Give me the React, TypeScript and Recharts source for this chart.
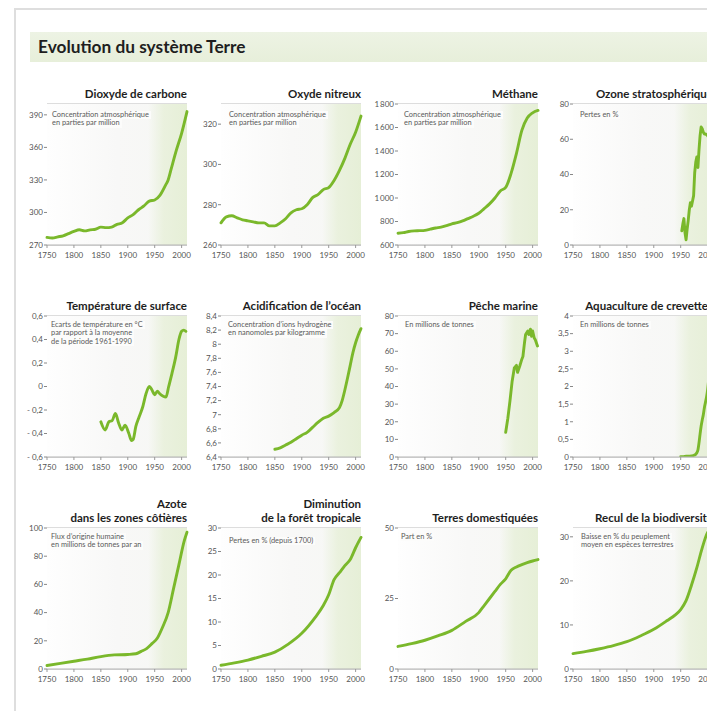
import { LineChart, Line, XAxis, YAxis, CartesianGrid, ReferenceArea } from 'recharts'

// ---- data ----
const xTicks = [1750, 1800, 1850, 1900, 1950, 2000]

const co2Years = [1750, 1760, 1770, 1780, 1790, 1800, 1810, 1820, 1830, 1840, 1850, 1860, 1870, 1880, 1890, 1900, 1910, 1920, 1930, 1940, 1950, 1960, 1970, 1975, 1980, 1990, 2000, 2010]
const co2Values = [277, 276.5, 277.5, 278.5, 280.5, 282.5, 284, 283, 284, 284.5, 286.5, 286, 286.5, 289, 290.5, 295, 298, 302.5, 306, 310.5, 311.5, 316, 325, 330, 339, 357, 373, 393]
const co2Ticks = [270, 300, 330, 360, 390]

const n2oYears = [1750, 1760, 1770, 1780, 1790, 1800, 1810, 1820, 1830, 1840, 1850, 1860, 1870, 1880, 1890, 1900, 1910, 1920, 1930, 1940, 1950, 1960, 1970, 1980, 1990, 2000, 2010]
const n2oValues = [271, 274, 274.5, 273.5, 272.5, 272, 271.5, 271, 271, 269.5, 269.5, 271, 273, 276, 277.5, 278, 280, 283.5, 285, 287.5, 288.5, 292, 297, 303, 310, 316, 324]
const n2oTicks = [260, 280, 300, 320]

const ch4Years = [1750, 1760, 1770, 1780, 1790, 1800, 1810, 1820, 1830, 1840, 1850, 1860, 1870, 1880, 1890, 1900, 1910, 1920, 1930, 1940, 1950, 1960, 1970, 1980, 1990, 2000, 2010]
const ch4Values = [700, 705, 715, 720, 722, 725, 735, 745, 752, 765, 780, 790, 805, 825, 845, 870, 910, 950, 1000, 1060, 1090, 1210, 1380, 1575, 1680, 1725, 1745]
const ch4Ticks = [600, 800, 1000, 1200, 1400, 1600, 1800]

const ozoneYears = [1952, 1954, 1956, 1958, 1960, 1962, 1964, 1966, 1968, 1970, 1972, 1974, 1976, 1978, 1980, 1982, 1984, 1986, 1988, 1990, 1992, 1994, 1996, 2000, 2004, 2008, 2010]
const ozoneValues = [8, 12, 15, 7, 3, 9, 14, 20, 24, 22, 25, 28, 41, 47, 50, 44, 54, 62, 67, 66, 64, 63, 63, 62, 60, 61, 60]
const ozoneTicks = [0, 20, 40, 60, 80]

const tempYears = [1850, 1858, 1865, 1871, 1877, 1883, 1889, 1895, 1902, 1907, 1910, 1915, 1921, 1928, 1934, 1940, 1945, 1950, 1955, 1959, 1965, 1971, 1976, 1982, 1989, 1995, 2000, 2004, 2008]
const tempValues = [-0.3, -0.37, -0.3, -0.29, -0.23, -0.31, -0.37, -0.33, -0.4, -0.46, -0.45, -0.34, -0.26, -0.17, -0.06, 0, -0.03, -0.07, -0.04, -0.06, -0.08, -0.09, 0, 0.11, 0.25, 0.4, 0.47, 0.48, 0.47]
const tempTicks = [-0.6, -0.4, -0.2, 0, 0.2, 0.4, 0.6]

const acidYears = [1850, 1860, 1870, 1880, 1890, 1900, 1910, 1920, 1930, 1940, 1950, 1960, 1970, 1975, 1980, 1985, 1990, 1995, 2000, 2005, 2010]
const acidValues = [6.51, 6.53, 6.57, 6.61, 6.66, 6.71, 6.75, 6.82, 6.89, 6.95, 6.98, 7.03, 7.1, 7.2, 7.35, 7.52, 7.7, 7.88, 8.02, 8.13, 8.22]
const acidTicks = [6.4, 6.6, 6.8, 7, 7.2, 7.4, 7.6, 7.8, 8, 8.2, 8.4]

const fishYears = [1950, 1954, 1958, 1962, 1966, 1970, 1972, 1976, 1980, 1982, 1985, 1987, 1991, 1993, 1996, 1998, 2000, 2003, 2005, 2009]
const fishValues = [14, 22, 32, 43, 50.5, 52, 48, 51.5, 55.5, 57, 65, 69.5, 71.5, 69.5, 72.5, 68.5, 71.5, 67.5, 66.5, 63]
const fishTicks = [0, 10, 20, 30, 40, 50, 60, 70, 80]

const shrimpYears = [1950, 1955, 1960, 1965, 1970, 1975, 1978, 1980, 1982, 1984, 1986, 1988, 1990, 1992, 1994, 1996, 1998, 2000, 2002, 2004, 2006, 2008, 2010]
const shrimpValues = [0.01, 0.01, 0.02, 0.02, 0.03, 0.05, 0.08, 0.12, 0.2, 0.4, 0.65, 0.88, 1.05, 1.2, 1.4, 1.55, 1.7, 1.9, 2.2, 2.6, 3, 3.3, 3.5]
const shrimpTicks = [0, 0.5, 1, 1.5, 2, 2.5, 3, 3.5, 4]

const nitroYears = [1750, 1775, 1800, 1825, 1850, 1875, 1900, 1915, 1925, 1935, 1945, 1955, 1965, 1975, 1985, 1995, 2005, 2010]
const nitroValues = [2.5, 4, 5.5, 7, 8.8, 10, 10.3, 10.8, 12.5, 14.5, 18, 22, 30, 40, 57, 74, 91, 97]
const nitroTicks = [0, 20, 40, 60, 80, 100]

const forestYears = [1750, 1775, 1800, 1825, 1850, 1875, 1900, 1925, 1940, 1950, 1960, 1970, 1980, 1990, 2000, 2010]
const forestValues = [0.8, 1.3, 1.9, 2.7, 3.6, 5.3, 7.6, 11, 13.5, 15.8, 19, 20.5, 22, 23.3, 25.8, 28]
const forestTicks = [0, 5, 10, 15, 20, 25, 30]

const landYears = [1750, 1775, 1800, 1825, 1850, 1875, 1900, 1910, 1920, 1930, 1940, 1950, 1960, 1970, 1980, 1990, 2000, 2010]
const landValues = [8, 9, 10.2, 11.8, 13.7, 16.8, 20, 22.5, 25, 27.5, 30, 32, 35, 36.2, 37, 37.7, 38.3, 38.8]
const landTicks = [0, 25, 50]

const bioYears = [1750, 1775, 1800, 1825, 1850, 1875, 1900, 1925, 1940, 1950, 1960, 1970, 1980, 1990, 2000, 2010]
const bioValues = [3.5, 4, 4.6, 5.3, 6.2, 7.5, 9, 11, 12.3, 13.5, 15.5, 19, 23, 27.5, 31, 32]
const bioTicks = [0, 10, 20, 30]

// ---- layout ----
const COLS = [47, 221, 398, 573]
const ROWS = [104, 316, 528]
const PLOT_W = 140
const PLOT_H = 141
const Y_W = 30
const TOP_M = 6
const X_H = 22
const FONT = 'Lato, "Open Sans", sans-serif'
const GREEN = '#7ab82b'

type PanelDef = {
  title: string[]
  note: string[]
  years: number[]
  values: number[]
  ticks: number[]
  domain: [number, number]
  col: number
  row: number
  noteX: number
  noteY: number
  curve: 'monotone' | 'linear'
}

const panels: PanelDef[] = [
  { title: ['Dioxyde de carbone'], note: ['Concentration atmosphérique', 'en parties par million'], years: co2Years, values: co2Values, ticks: co2Ticks, domain: [270, 400], col: 0, row: 0, noteX: 5, noteY: 11, curve: 'monotone' },
  { title: ['Oxyde nitreux'], note: ['Concentration atmosphérique', 'en parties par million'], years: n2oYears, values: n2oValues, ticks: n2oTicks, domain: [260, 330], col: 1, row: 0, noteX: 8, noteY: 11, curve: 'monotone' },
  { title: ['Méthane'], note: ['Concentration atmosphérique', 'en parties par million'], years: ch4Years, values: ch4Values, ticks: ch4Ticks, domain: [600, 1800], col: 2, row: 0, noteX: 6, noteY: 11, curve: 'monotone' },
  { title: ['Ozone stratosphérique'], note: ['Pertes en %'], years: ozoneYears, values: ozoneValues, ticks: ozoneTicks, domain: [0, 80], col: 3, row: 0, noteX: 7, noteY: 11, curve: 'linear' },
  { title: ['Température de surface'], note: ['Ecarts de température en °C', 'par rapport à la moyenne', 'de la période 1961-1990'], years: tempYears, values: tempValues, ticks: tempTicks, domain: [-0.6, 0.6], col: 0, row: 1, noteX: 4, noteY: 9, curve: 'monotone' },
  { title: ['Acidification de l’océan'], note: ['Concentration d’ions hydrogène', 'en nanomoles par kilogramme'], years: acidYears, values: acidValues, ticks: acidTicks, domain: [6.4, 8.4], col: 1, row: 1, noteX: 7, noteY: 9, curve: 'monotone' },
  { title: ['Pêche marine'], note: ['En millions de tonnes'], years: fishYears, values: fishValues, ticks: fishTicks, domain: [0, 80], col: 2, row: 1, noteX: 7, noteY: 9, curve: 'linear' },
  { title: ['Aquaculture de crevettes'], note: ['En millions de tonnes'], years: shrimpYears, values: shrimpValues, ticks: shrimpTicks, domain: [0, 4], col: 3, row: 1, noteX: 7, noteY: 9, curve: 'monotone' },
  { title: ['Azote', 'dans les zones côtières'], note: ['Flux d’origine humaine', 'en millions de tonnes par an'], years: nitroYears, values: nitroValues, ticks: nitroTicks, domain: [0, 100], col: 0, row: 2, noteX: 4, noteY: 9, curve: 'monotone' },
  { title: ['Diminution', 'de la forêt tropicale'], note: ['Pertes en % (depuis 1700)'], years: forestYears, values: forestValues, ticks: forestTicks, domain: [0, 30], col: 1, row: 2, noteX: 8, noteY: 13, curve: 'monotone' },
  { title: ['Terres domestiquées'], note: ['Part en %'], years: landYears, values: landValues, ticks: landTicks, domain: [0, 50], col: 2, row: 2, noteX: 3, noteY: 9, curve: 'monotone' },
  { title: ['Recul de la biodiversité'], note: ['Baisse en % du peuplement', 'moyen en espèces terrestres'], years: bioYears, values: bioValues, ticks: bioTicks, domain: [0, 32], col: 3, row: 2, noteX: 8, noteY: 9, curve: 'monotone' },
]

function fmt(v: number) {
  const a = Math.abs(v)
  let s = a >= 1000 ? String(a).replace(/\B(?=(\d{3})+(?!\d))/g, '\u2009') : String(a).replace('.', ',')
  if (v < 0) s = '- ' + s
  return s
}

function Panel({ p, i }: { p: PanelDef; i: number }) {
  const data = p.years.map((y, k) => ({ year: y, v: p.values[k] }))
  const x0 = COLS[p.col]
  const y0 = ROWS[p.row]
  const w = Y_W + PLOT_W + 6
  const h = TOP_M + PLOT_H + X_H
  const tickStyle = { fontSize: 8, fill: '#555', fontFamily: FONT }
  return (
    <>
      <div style={{ position: 'absolute', left: x0 - Y_W, top: y0 - TOP_M }}>
        <LineChart width={w} height={h} data={data} margin={{ top: TOP_M, right: 6, bottom: 0, left: 0 }}>
          <defs>
            <linearGradient id={`bg${i}`} x1="0" y1="0" x2="1" y2="0">
              <stop offset="0%" stopColor="#fefefe" />
              <stop offset="50%" stopColor="#f8f8f7" />
              <stop offset="100%" stopColor="#f6f7f4" />
            </linearGradient>
            <linearGradient id={`gr${i}`} x1="0" y1="0" x2="1" y2="0">
              <stop offset="0%" stopColor="#e9f1dc" stopOpacity={0} />
              <stop offset="40%" stopColor="#eaf1de" stopOpacity={1} />
              <stop offset="100%" stopColor="#e6efd7" stopOpacity={1} />
            </linearGradient>
          </defs>
          <ReferenceArea x1={1750} x2={2010} fill={`url(#bg${i})`} fillOpacity={1} stroke="none" ifOverflow="hidden" />
          <ReferenceArea x1={1938} x2={2010} fill={`url(#gr${i})`} fillOpacity={1} stroke="none" ifOverflow="hidden" />
          <CartesianGrid vertical={false} stroke="#a9a9a9" strokeWidth={0.8} />
          <XAxis
            dataKey="year"
            type="number"
            domain={[1750, 2010]}
            ticks={xTicks}
            interval={0}
            height={X_H}
            tick={tickStyle}
            tickSize={3}
            tickMargin={4}
            stroke="#b5b5b5"
            tickLine={{ stroke: '#999' }}
          />
          <YAxis
            type="number"
            domain={p.domain}
            ticks={p.ticks}
            interval={0}
            allowDataOverflow
            width={Y_W}
            axisLine={false}
            tick={tickStyle}
            tickSize={3}
            tickMargin={1}
            tickLine={{ stroke: '#888' }}
            tickFormatter={fmt}
          />
          <Line type={p.curve} dataKey="v" stroke={GREEN} strokeWidth={2.9} dot={false} isAnimationActive={false} strokeLinejoin="round" strokeLinecap="round" />
        </LineChart>
      </div>
      <div
        style={{
          position: 'absolute',
          left: x0 + p.noteX,
          top: y0 + p.noteY - 4.5,
          fontFamily: FONT,
          fontSize: 7.4,
          lineHeight: '8.6px',
          color: '#5a5a5a',
        }}
      >
        {p.note.map((t) => (
          <div key={t} style={{ display: 'table', background: '#fcfcfb', paddingRight: 2, whiteSpace: 'nowrap' }}>
            {t}
          </div>
        ))}
      </div>
      <div
        style={{
          position: 'absolute',
          left: x0 + PLOT_W - 200,
          width: 200,
          top: y0 - 3 - p.title.length * 14,
          textAlign: 'right',
          fontFamily: FONT,
          fontWeight: 700,
          fontSize: 11.5,
          lineHeight: '14px',
          color: '#1e1e1e',
          whiteSpace: 'nowrap',
        }}
      >
        {p.title.map((t) => (
          <div key={t}>{t}</div>
        ))}
      </div>
    </>
  )
}

export default function App() {
  return (
    <div style={{ position: 'absolute', left: 0, top: 0, width: 707, height: 711, overflow: 'hidden', background: '#fff' }}>
      <div style={{ position: 'absolute', left: 14, top: 8, width: 760, height: 760, border: '2px solid #dedede' }} />
      <div
        style={{
          position: 'absolute',
          left: 30,
          top: 32,
          width: 720,
          height: 30,
          background: 'linear-gradient(to bottom, #edf3e4, #e7efda)',
        }}
      />
      <div
        style={{
          position: 'absolute',
          left: 38,
          top: 35,
          fontFamily: FONT,
          fontWeight: 700,
          fontSize: 17.3,
          lineHeight: '24px',
          color: '#1e1e1e',
          whiteSpace: 'nowrap',
        }}
      >
        Evolution du système Terre
      </div>
      {panels.map((p, i) => (
        <Panel key={i} p={p} i={i} />
      ))}
    </div>
  )
}
